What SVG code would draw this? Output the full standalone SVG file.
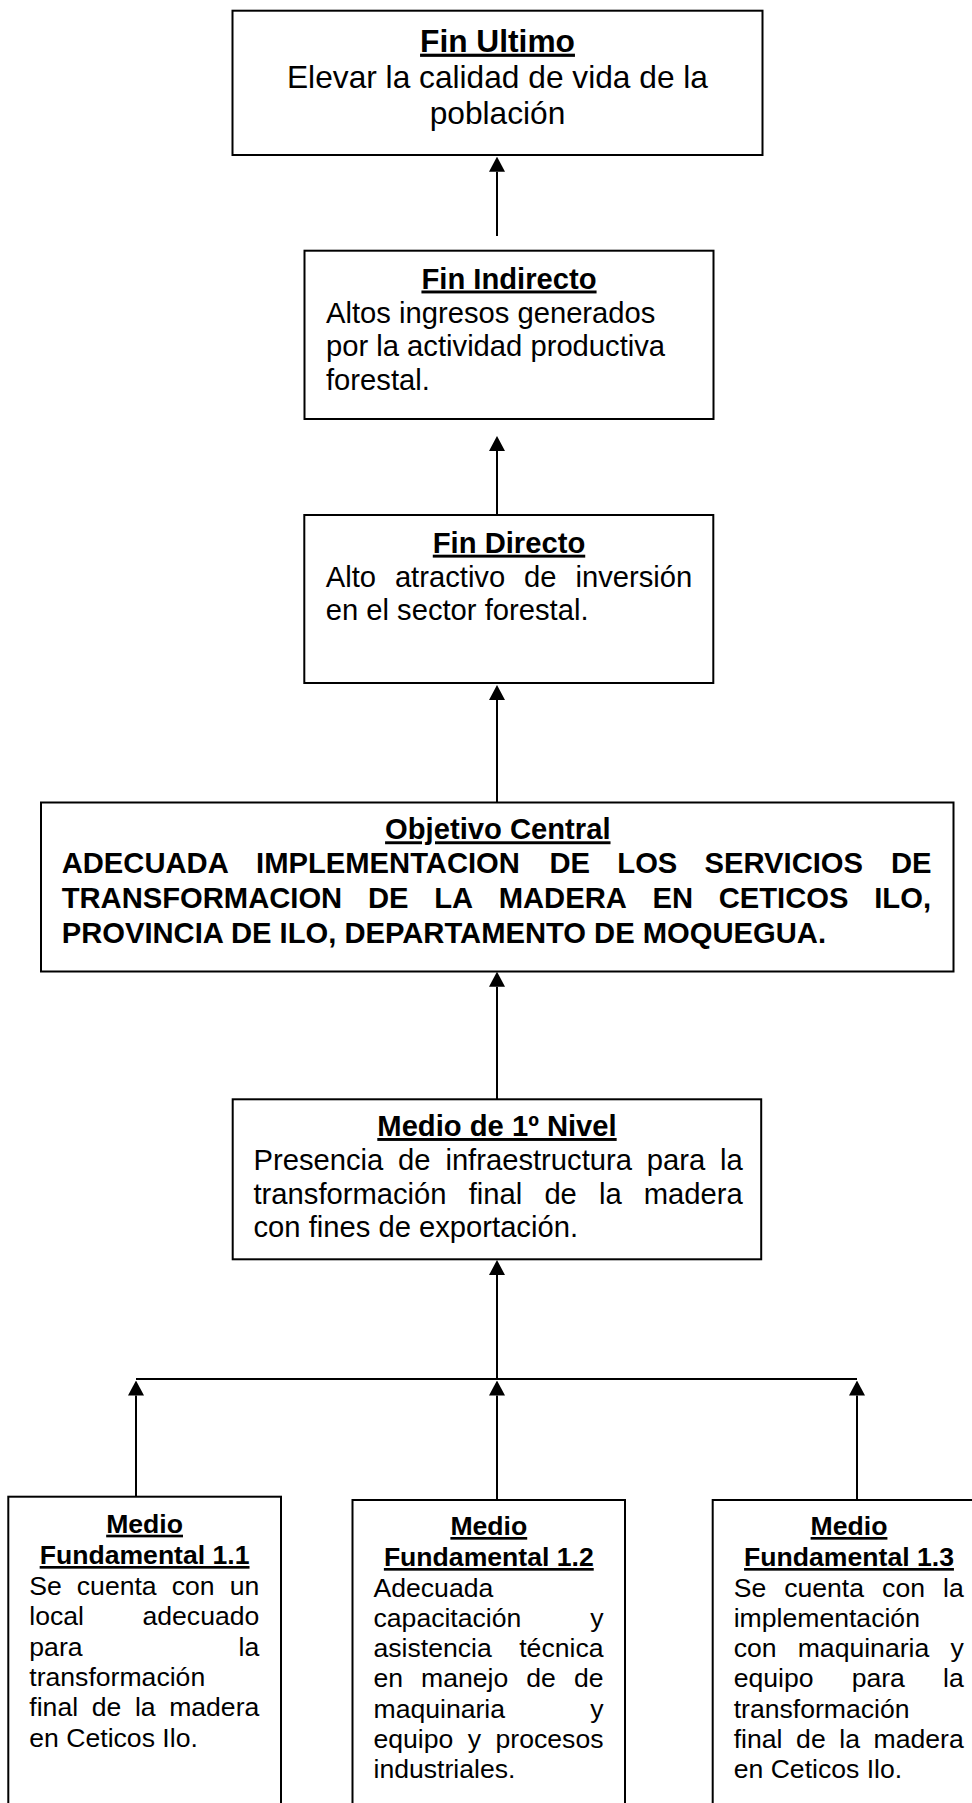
<svg xmlns="http://www.w3.org/2000/svg" width="972" height="1803" viewBox="0 0 972 1803">
<style>
.box{fill:#fff;stroke:#000;stroke-width:2}
.t{font-family:"Liberation Sans",Arial,sans-serif;fill:#000}
.b{font-weight:bold}
.u{text-decoration:underline}
.s13{font-size:31.7px}
.s12{font-size:29.2px}
.s11{font-size:26.6px}
.m{text-anchor:middle}
.e{text-anchor:end}
.c{fill:none;stroke:#000;stroke-width:2}
</style>
<defs>
<marker id="ah" viewBox="0 0 15 16" refX="0" refY="8" markerWidth="15" markerHeight="16" markerUnits="userSpaceOnUse" orient="auto">
<path d="M0,0 L15,8 L0,16 z" fill="#000"/>
</marker>
</defs>
<rect width="972" height="1803" fill="#fff"/>

<g id="connectors">
<path class="c" d="M497,236 V171.7" marker-end="url(#ah)"/>
<path class="c" d="M497,515 V451" marker-end="url(#ah)"/>
<path class="c" d="M497,802 V700" marker-end="url(#ah)"/>
<path class="c" d="M497,1099 V986.7" marker-end="url(#ah)"/>
<path class="c" d="M497,1379 V1275" marker-end="url(#ah)"/>
<path class="c" d="M136,1379 H857"/>
<path class="c" d="M136,1497 V1395.5" marker-end="url(#ah)"/>
<path class="c" d="M497,1500 V1395.5" marker-end="url(#ah)"/>
<path class="c" d="M857,1500 V1395.5" marker-end="url(#ah)"/>
</g>

<g id="fin-ultimo">
<rect class="box" x="232.5" y="10.7" width="530" height="144.3"/>
<text class="t s13 b u m" x="497.5" y="51.7">Fin Ultimo</text>
<text class="t s13 m" x="497.5" y="87.7">Elevar la calidad de vida de la</text>
<text class="t s13 m" x="497.5" y="124">población</text>
</g>

<g id="fin-indirecto">
<rect class="box" x="304.5" y="250.7" width="409" height="168.3"/>
<text class="t s12 b u m" x="509" y="288.5">Fin Indirecto</text>
<text class="t s12" x="326" y="322.5">Altos ingresos generados</text>
<text class="t s12" x="326" y="356">por la actividad productiva</text>
<text class="t s12" x="326" y="389.5">forestal.</text>
</g>

<g id="fin-directo">
<rect class="box" x="304.3" y="515" width="409" height="168"/>
<text class="t s12 b u m" x="509" y="552.7">Fin Directo</text>
<text class="t s12" y="586.7"><tspan x="325.7">Alto</tspan><tspan x="394.9">atractivo</tspan><tspan x="524.1">de</tspan></text>
<text class="t s12 e" x="692.3" y="586.7">inversión</text>
<text class="t s12" x="325.7" y="620">en el sector forestal.</text>
</g>

<g id="objetivo-central">
<rect class="box" x="41" y="802.5" width="912.5" height="169"/>
<text class="t s12 b u m" x="497.8" y="839.3">Objetivo Central</text>
<text class="t s12 b" y="873.3"><tspan x="61.7">ADECUADA</tspan><tspan x="256.1">IMPLEMENTACION</tspan><tspan x="549.4">DE</tspan><tspan x="617.3">LOS</tspan><tspan x="704.6">SERVICIOS</tspan></text>
<text class="t s12 b e" x="931.5" y="873.3">DE</text>
<text class="t s12 b" y="908.3"><tspan x="61.7">TRANSFORMACION</tspan><tspan x="367.9">DE</tspan><tspan x="434.2">LA</tspan><tspan x="498.7">MADERA</tspan><tspan x="652.5">EN</tspan><tspan x="718.7">CETICOS</tspan></text>
<text class="t s12 b e" x="931" y="908.3">ILO,</text>
<text class="t s12 b" x="61.7" y="942.7">PROVINCIA DE ILO, DEPARTAMENTO DE MOQUEGUA.</text>
</g>

<g id="medio-1-nivel">
<rect class="box" x="232.7" y="1099.3" width="528.5" height="160"/>
<text class="t s12 b u m" x="497" y="1136">Medio de 1º Nivel</text>
<text class="t s12" y="1170"><tspan x="253.5">Presencia</tspan><tspan x="398.1">de</tspan><tspan x="445.4">infraestructura</tspan><tspan x="646.8">para</tspan></text>
<text class="t s12 e" x="742.7" y="1170">la</text>
<text class="t s12" y="1203.5"><tspan x="253.5">transformación</tspan><tspan x="468.7">final</tspan><tspan x="544.4">de</tspan><tspan x="599">la</tspan></text>
<text class="t s12 e" x="742.7" y="1203.5">madera</text>
<text class="t s12" x="253.5" y="1237">con fines de exportación.</text>
</g>

<g id="medio-fundamental-1-1">
<rect class="box" x="8.3" y="1496.7" width="272.7" height="330"/>
<text class="t s11 b u m" x="144.6" y="1532.7">Medio</text>
<text class="t s11 b u m" x="144.6" y="1564">Fundamental 1.1</text>
<text class="t s11" y="1595"><tspan x="29.3">Se</tspan><tspan x="76.8">cuenta</tspan><tspan x="171.7">con</tspan></text>
<text class="t s11 e" x="259.3" y="1595">un</text>
<text class="t s11" x="29.3" y="1625.3">local</text>
<text class="t s11 e" x="259.3" y="1625.3">adecuado</text>
<text class="t s11" x="29.3" y="1655.6">para</text>
<text class="t s11 e" x="259.3" y="1655.6">la</text>
<text class="t s11" x="29.3" y="1685.9">transformación</text>
<text class="t s11" y="1716.2"><tspan x="29.3">final</tspan><tspan x="91.7">de</tspan><tspan x="134.9">la</tspan></text>
<text class="t s11 e" x="259.3" y="1716.2">madera</text>
<text class="t s11" x="29.3" y="1746.5">en Ceticos Ilo.</text>
</g>

<g id="medio-fundamental-1-2">
<rect class="box" x="352.5" y="1500" width="272.5" height="330"/>
<text class="t s11 b u m" x="488.8" y="1535">Medio</text>
<text class="t s11 b u m" x="488.8" y="1566">Fundamental 1.2</text>
<text class="t s11" x="373.5" y="1596.5">Adecuada</text>
<text class="t s11" x="373.5" y="1626.8">capacitación</text>
<text class="t s11 e" x="603.5" y="1626.8">y</text>
<text class="t s11" x="373.5" y="1657.1">asistencia</text>
<text class="t s11 e" x="603.5" y="1657.1">técnica</text>
<text class="t s11" y="1687.4"><tspan x="373.5">en</tspan><tspan x="421.1">manejo</tspan><tspan x="526.3">de</tspan></text>
<text class="t s11 e" x="603.5" y="1687.4">de</text>
<text class="t s11" x="373.5" y="1717.7">maquinaria</text>
<text class="t s11 e" x="603.5" y="1717.7">y</text>
<text class="t s11" y="1748"><tspan x="373.5">equipo</tspan><tspan x="467.8">y</tspan></text>
<text class="t s11 e" x="603.5" y="1748">procesos</text>
<text class="t s11" x="373.5" y="1778.3">industriales.</text>
</g>

<g id="medio-fundamental-1-3">
<rect class="box" x="712.7" y="1500" width="272.7" height="330"/>
<text class="t s11 b u m" x="849" y="1535">Medio</text>
<text class="t s11 b u m" x="849" y="1566">Fundamental 1.3</text>
<text class="t s11" y="1596.5"><tspan x="733.7">Se</tspan><tspan x="784.2">cuenta</tspan><tspan x="882.1">con</tspan></text>
<text class="t s11 e" x="963.7" y="1596.5">la</text>
<text class="t s11" x="733.7" y="1626.8">implementación</text>
<text class="t s11" y="1657.1"><tspan x="733.7">con</tspan><tspan x="797.7">maquinaria</tspan></text>
<text class="t s11 e" x="963.7" y="1657.1">y</text>
<text class="t s11" y="1687.4"><tspan x="733.7">equipo</tspan><tspan x="851.7">para</tspan></text>
<text class="t s11 e" x="963.7" y="1687.4">la</text>
<text class="t s11" x="733.7" y="1717.7">transformación</text>
<text class="t s11" y="1748"><tspan x="733.7">final</tspan><tspan x="796.1">de</tspan><tspan x="839.3">la</tspan></text>
<text class="t s11 e" x="963.7" y="1748">madera</text>
<text class="t s11" x="733.7" y="1778.3">en Ceticos Ilo.</text>
</g>
</svg>
